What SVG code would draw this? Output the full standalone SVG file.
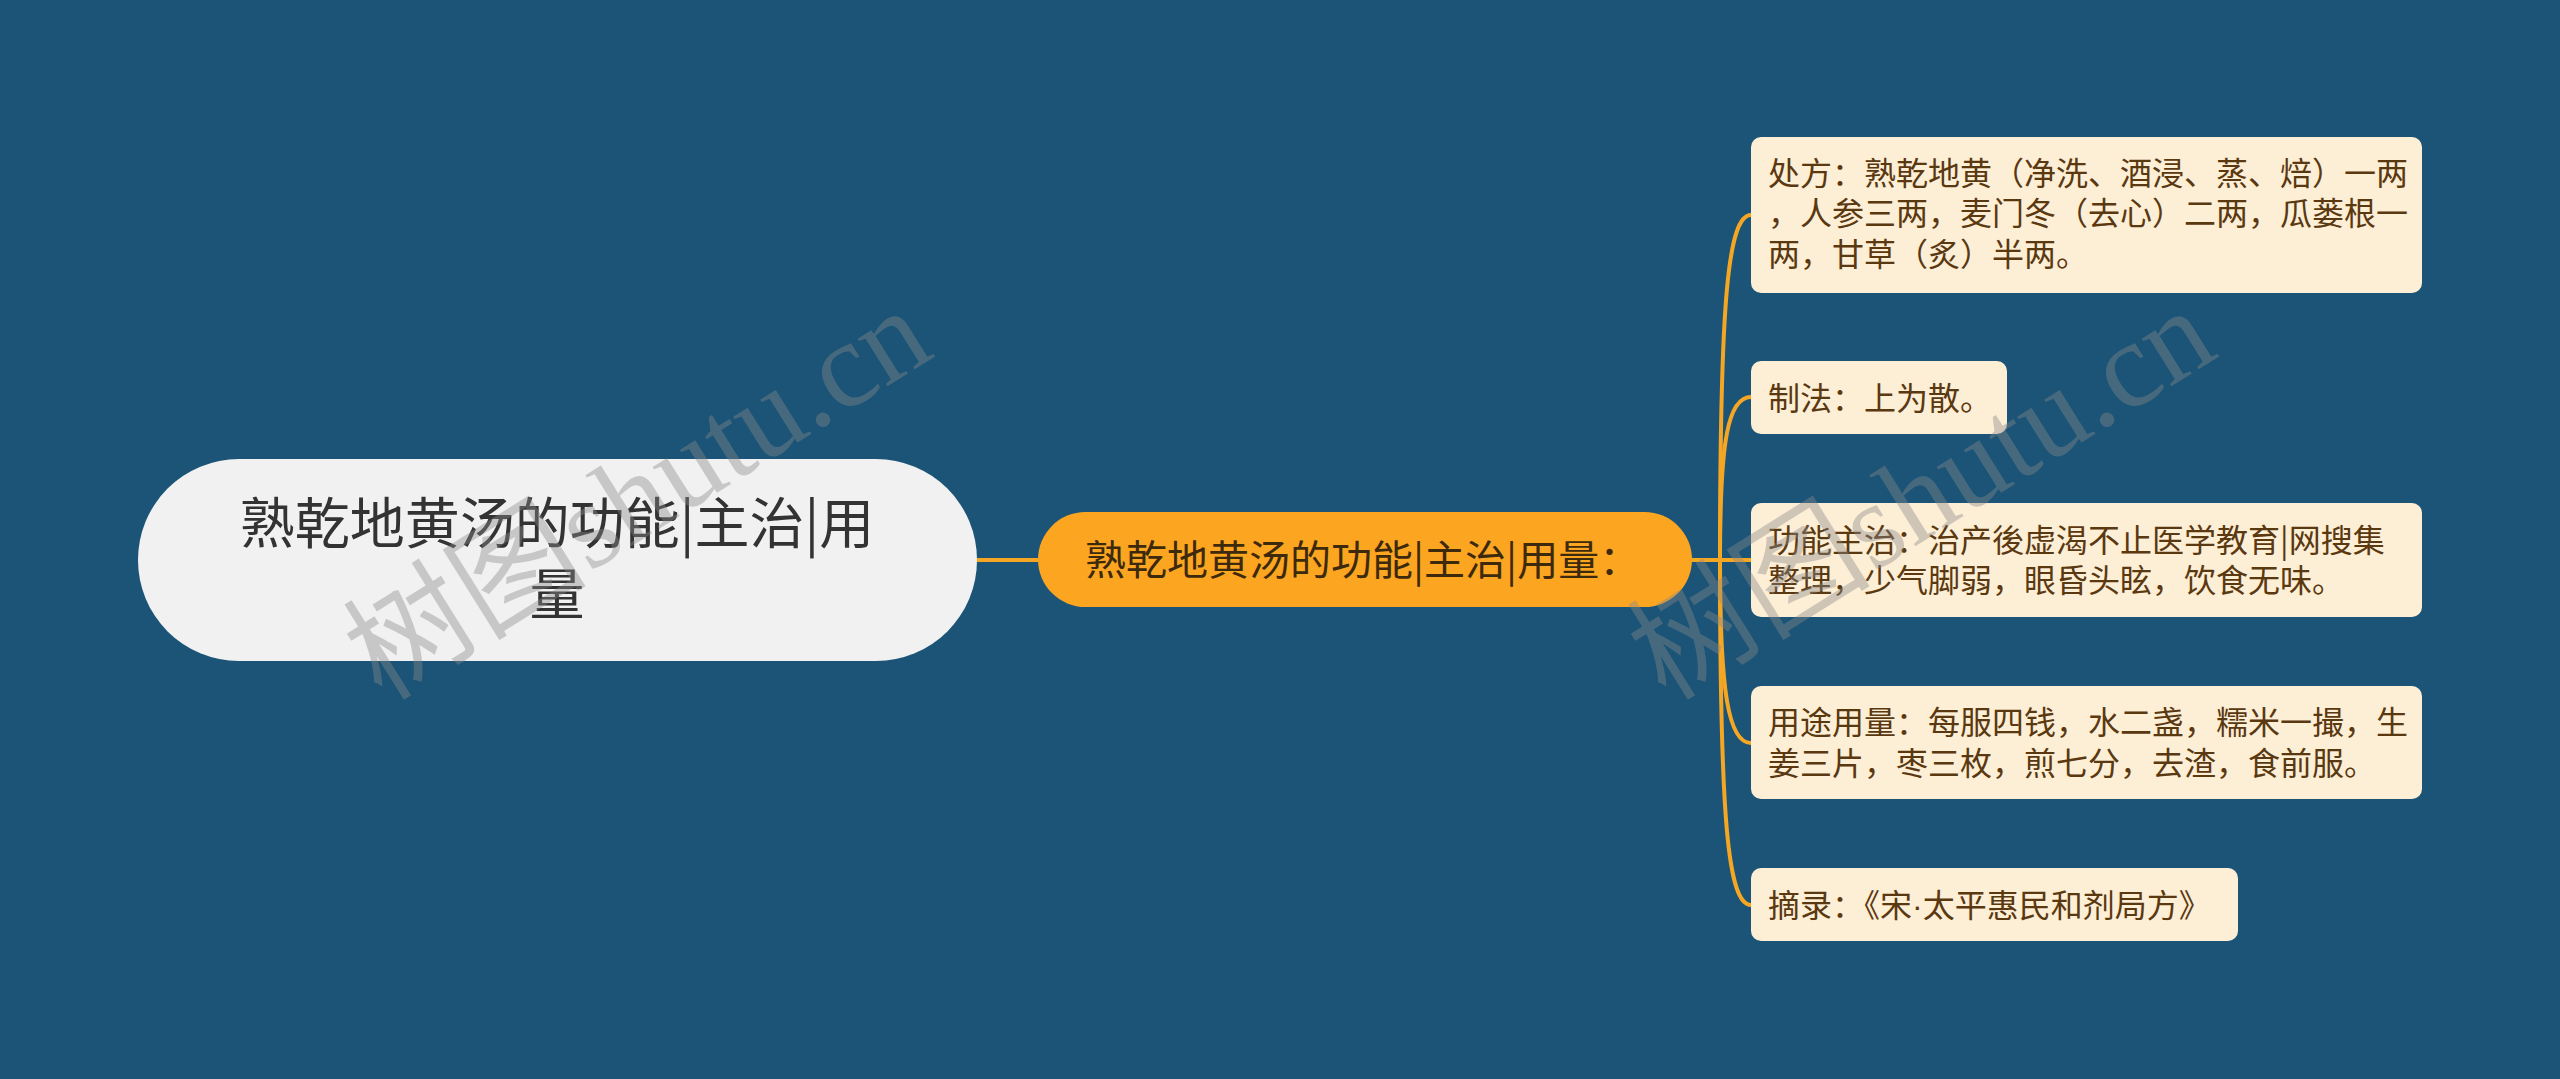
<svg xmlns="http://www.w3.org/2000/svg" width="2560" height="1079" viewBox="0 0 2560 1079">
<style>
.cjk{font-family:"Noto Sans CJK SC","Noto Sans",sans-serif}
.root-t{font-size:55px;fill:#333333}
.main-t{font-size:41px;fill:#3d2a0c}
.leaf-t{font-size:32px;fill:#5a3810}
.leaf{fill:#fdeed6}
.conn{fill:none;stroke:#f5a623;stroke-width:4;stroke-linecap:round}
.wm{font-family:"Liberation Serif","Noto Sans CJK SC",serif;font-size:122px;fill:#8a8a8a;opacity:0.4}
</style>
<rect width="2560" height="1079" fill="#1b5477"/>
<g id="connectors">
<line class="conn" x1="977" y1="560" x2="1038" y2="560"/>
<line class="conn" x1="1692" y1="560" x2="1751" y2="560"/>
<path class="conn" d="M1720,560 C1720,300 1728,215 1751,215"/>
<path class="conn" d="M1720,560 C1720,440 1728,397 1751,397"/>
<path class="conn" d="M1720,560 C1720,690 1728,743 1751,743"/>
<path class="conn" d="M1720,560 C1720,820 1728,905 1751,905"/>
</g>
<g id="root">
<rect x="138" y="459" width="839" height="202" rx="101" ry="101" fill="#f1f1f1"/>
<text class="cjk root-t" text-anchor="middle"><tspan x="557" y="543">熟乾地黄汤的功能|主治|用</tspan><tspan x="557" y="614">量</tspan></text>
</g>
<g id="main">
<rect x="1038" y="512" width="654" height="95" rx="47.5" ry="47.5" fill="#fba521"/>
<text class="cjk main-t" x="1085" y="575">熟乾地黄汤的功能|主治|用量：</text>
</g>
<g id="leaf1">
<rect class="leaf" x="1751" y="137" width="671" height="156" rx="10"/>
<text class="cjk leaf-t"><tspan x="1768" y="185">处方：熟乾地黄（净洗、酒浸、蒸、焙）一两</tspan><tspan x="1768" y="225">，人参三两，麦门冬（去心）二两，瓜蒌根一</tspan><tspan x="1768" y="266">两，甘草（炙）半两。</tspan></text>
</g>
<g id="leaf2">
<rect class="leaf" x="1751" y="361" width="256" height="73" rx="10"/>
<text class="cjk leaf-t" x="1768" y="410">制法：上为散。</text>
</g>
<g id="leaf3">
<rect class="leaf" x="1751" y="503" width="671" height="114" rx="10"/>
<text class="cjk leaf-t"><tspan x="1768" y="552">功能主治：治产後虚渴不止医学教育|网搜集</tspan><tspan x="1768" y="592">整理，少气脚弱，眼昏头眩，饮食无味。</tspan></text>
</g>
<g id="leaf4">
<rect class="leaf" x="1751" y="686" width="671" height="113" rx="10"/>
<text class="cjk leaf-t"><tspan x="1768" y="734">用途用量：每服四钱，水二盏，糯米一撮，生</tspan><tspan x="1768" y="775">姜三片，枣三枚，煎七分，去渣，食前服。</tspan></text>
</g>
<g id="leaf5">
<rect class="leaf" x="1751" y="868" width="487" height="73" rx="10"/>
<text class="cjk leaf-t" x="1768" y="917">摘录：《宋<tspan font-family="Liberation Sans, sans-serif">·</tspan>太平惠民和剂局方》</text>
</g>
<g id="watermarks">
<text class="wm" transform="translate(382,702) rotate(-32)">树图shutu.cn</text>
<text class="wm" transform="translate(1666,702) rotate(-32)">树图shutu.cn</text>
</g>
</svg>
